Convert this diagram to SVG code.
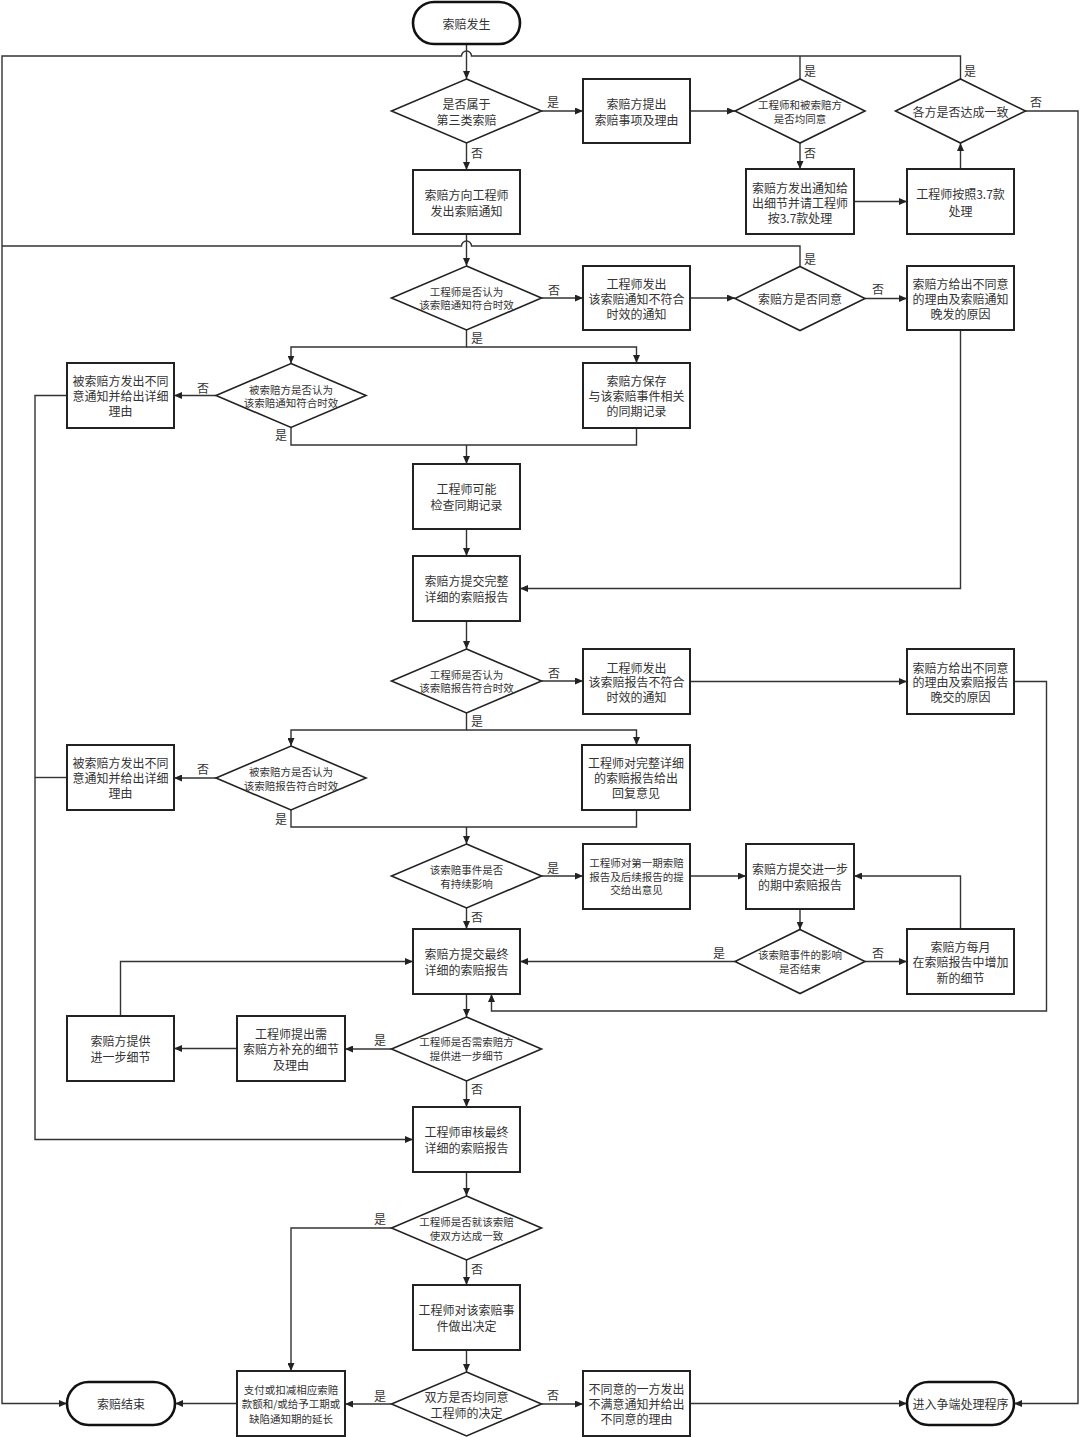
<svg xmlns="http://www.w3.org/2000/svg" width="1080" height="1437" viewBox="0 0 1080 1437">
<defs>
<marker id="a" markerWidth="8" markerHeight="7" refX="8" refY="3.5" orient="auto" markerUnits="userSpaceOnUse"><path d="M0,0 L8,3.5 L0,7 z" fill="#222"/></marker>
<style>
.box{fill:#fff;stroke:#222;stroke-width:2}
.dia{fill:#fff;stroke:#222;stroke-width:1.6}
.term{fill:#fff;stroke:#111;stroke-width:2.6}
.t{font-family:"Noto Sans CJK SC","Noto Sans",sans-serif;font-size:12px;fill:#333;text-anchor:middle;dominant-baseline:central}
.s{font-size:10.5px}
.lbl{font-family:"Noto Sans CJK SC","Noto Sans",sans-serif;font-size:12px;fill:#333;dominant-baseline:central}
.c{fill:none;stroke:#333;stroke-width:1.4}
.c path.ar{marker-end:url(#a)}
</style>
</defs>
<rect width="1080" height="1437" fill="#fff"/>
<g id="connectors" class="c">
<path class="ar" d="M466.5,44 V79"/>
<path class="ar" d="M541.5,111 H583"/>
<path class="ar" d="M690,111 H735"/>
<path class="ar" d="M800,143 V169"/>
<path class="ar" d="M854,201.5 H907"/>
<path class="ar" d="M960.5,169 V143"/>
<path class="ar" d="M960.5,79 V56 H471.5 A5,5 0 0 0 461.5,56 H2 V1403.5 H67"/>
<path d="M800,79 V56"/>
<path class="ar" d="M1025,111 H1078 V1403.5 H1014"/>
<path class="ar" d="M466.5,143 V170"/>
<path class="ar" d="M466.5,234 V266"/>
<path d="M800,266.5 V246 H471.5 A5,5 0 0 0 461.5,246 H2"/>
<path class="ar" d="M541.5,298 H583"/>
<path class="ar" d="M690,298 H735"/>
<path class="ar" d="M865,298.5 H907"/>
<path class="ar" d="M960.5,330 V588.5 H520"/>
<path class="ar" d="M466.5,330 V347 H291 V363.5"/>
<path class="ar" d="M466.5,347 H636.5 V363"/>
<path class="ar" d="M216,395.5 H174"/>
<path class="ar" d="M67,395.5 H35 V1139.5 H413"/>
<path d="M291,427.5 V445 H636.5 V428"/>
<path class="ar" d="M466.5,445 V464"/>
<path class="ar" d="M466.5,529 V556"/>
<path class="ar" d="M466.5,621 V649"/>
<path class="ar" d="M541.5,681 H583"/>
<path class="ar" d="M690,681.5 H907"/>
<path class="ar" d="M1014,681.5 H1046.5 V1011 H491.5 V994"/>
<path class="ar" d="M466.5,713 V730 H291 V746"/>
<path class="ar" d="M466.5,730 H636.5 V745"/>
<path class="ar" d="M216,778 H174"/>
<path d="M67,777.5 H35"/>
<path d="M291,810 V827 H636.5 V810"/>
<path class="ar" d="M466.5,827 V844"/>
<path class="ar" d="M541.5,876 H583"/>
<path class="ar" d="M690,876 H746"/>
<path class="ar" d="M800,909 V929.5"/>
<path class="ar" d="M865,961.5 H907"/>
<path class="ar" d="M735,961.5 H520"/>
<path class="ar" d="M960.5,929 V876 H854"/>
<path class="ar" d="M466.5,908 V929"/>
<path class="ar" d="M466.5,994 V1017"/>
<path class="ar" d="M391.5,1049 H345"/>
<path class="ar" d="M237,1048.5 H174"/>
<path class="ar" d="M120.5,1016 V961.5 H413"/>
<path class="ar" d="M466.5,1081 V1107"/>
<path class="ar" d="M466.5,1172 V1196"/>
<path class="ar" d="M391.5,1228 H291 V1371"/>
<path class="ar" d="M466.5,1260 V1285"/>
<path class="ar" d="M466.5,1350 V1372"/>
<path class="ar" d="M391.5,1404 H345"/>
<path class="ar" d="M237,1403.5 H175"/>
<path class="ar" d="M541.5,1404 H583"/>
<path class="ar" d="M690,1403.5 H907"/>
</g>
<g id="labels" class="lbl">
<text x="471" y="152">否</text>
<text x="547" y="101">是</text>
<text x="804" y="70">是</text>
<text x="804" y="152">否</text>
<text x="964" y="70">是</text>
<text x="1030" y="101">否</text>
<text x="548" y="289">否</text>
<text x="804" y="258">是</text>
<text x="872" y="288">否</text>
<text x="471" y="337">是</text>
<text x="197" y="387">否</text>
<text x="275" y="434">是</text>
<text x="548" y="672">否</text>
<text x="471" y="720">是</text>
<text x="197" y="768">否</text>
<text x="275" y="818">是</text>
<text x="547" y="867">是</text>
<text x="471" y="916">否</text>
<text x="713" y="952">是</text>
<text x="872" y="952">否</text>
<text x="374" y="1039">是</text>
<text x="471" y="1088">否</text>
<text x="374" y="1218">是</text>
<text x="471" y="1268">否</text>
<text x="374" y="1395">是</text>
<text x="547" y="1394">否</text>
</g>
<g id="n1"><rect class="term" x="413" y="2" width="107" height="42" rx="21"/><text class="t" x="466.5" y="23">索赔发生</text></g>
<g id="n2"><polygon class="dia" points="466.5,79 541.5,111 466.5,143 391.5,111"/><text class="t" x="466.5" y="103">是否属于</text><text class="t" x="466.5" y="119">第三类索赔</text></g>
<g id="n3"><rect class="box" x="583" y="79" width="107" height="64"/><text class="t" x="636.5" y="103">索赔方提出</text><text class="t" x="636.5" y="119">索赔事项及理由</text></g>
<g id="n4"><polygon class="dia" points="800,79 865,111 800,143 735,111"/><text class="t s" x="800" y="104">工程师和被索赔方</text><text class="t s" x="800" y="118">是否均同意</text></g>
<g id="n5"><polygon class="dia" points="960.5,79 1025.5,111 960.5,143 895.5,111"/><text class="t" x="960.5" y="111">各方是否达成一致</text></g>
<g id="n6"><rect class="box" x="413" y="170" width="107" height="64"/><text class="t" x="466.5" y="194">索赔方向工程师</text><text class="t" x="466.5" y="210">发出索赔通知</text></g>
<g id="n7"><rect class="box" x="746" y="169" width="108" height="65"/><text class="t" x="800" y="187">索赔方发出通知给</text><text class="t" x="800" y="202">出细节并请工程师</text><text class="t" x="800" y="217">按3.7款处理</text></g>
<g id="n8"><rect class="box" x="907" y="169" width="107" height="65"/><text class="t" x="960.5" y="193">工程师按照3.7款</text><text class="t" x="960.5" y="210">处理</text></g>
<g id="n9"><polygon class="dia" points="466.5,266 541.5,298 466.5,330 391.5,298"/><text class="t s" x="466.5" y="291.5">工程师是否认为</text><text class="t s" x="466.5" y="304.5">该索赔通知符合时效</text></g>
<g id="n10"><rect class="box" x="583" y="266" width="107" height="64"/><text class="t" x="636.5" y="283">工程师发出</text><text class="t" x="636.5" y="298">该索赔通知不符合</text><text class="t" x="636.5" y="313">时效的通知</text></g>
<g id="n11"><polygon class="dia" points="800,266.5 865,298.5 800,330.5 735,298.5"/><text class="t" x="800" y="298.5">索赔方是否同意</text></g>
<g id="n12"><rect class="box" x="907" y="266" width="107" height="64"/><text class="t" x="960.5" y="283">索赔方给出不同意</text><text class="t" x="960.5" y="298">的理由及索赔通知</text><text class="t" x="960.5" y="313">晚发的原因</text></g>
<g id="n13"><rect class="box" x="67" y="363" width="107" height="65"/><text class="t" x="120.5" y="380">被索赔方发出不同</text><text class="t" x="120.5" y="395">意通知并给出详细</text><text class="t" x="120.5" y="410">理由</text></g>
<g id="n14"><polygon class="dia" points="291,363.5 366,395.5 291,427.5 216,395.5"/><text class="t s" x="291" y="389">被索赔方是否认为</text><text class="t s" x="291" y="402">该索赔通知符合时效</text></g>
<g id="n15"><rect class="box" x="583" y="363" width="107" height="65"/><text class="t" x="636.5" y="380">索赔方保存</text><text class="t" x="636.5" y="395">与该索赔事件相关</text><text class="t" x="636.5" y="410">的同期记录</text></g>
<g id="n16"><rect class="box" x="413" y="464" width="107" height="65"/><text class="t" x="466.5" y="488">工程师可能</text><text class="t" x="466.5" y="504">检查同期记录</text></g>
<g id="n17"><rect class="box" x="413" y="556" width="107" height="65"/><text class="t" x="466.5" y="580.5">索赔方提交完整</text><text class="t" x="466.5" y="596.5">详细的索赔报告</text></g>
<g id="n18"><polygon class="dia" points="466.5,649 541.5,681 466.5,713 391.5,681"/><text class="t s" x="466.5" y="674.5">工程师是否认为</text><text class="t s" x="466.5" y="687.5">该索赔报告符合时效</text></g>
<g id="n19"><rect class="box" x="583" y="649" width="107" height="65"/><text class="t" x="636.5" y="667">工程师发出</text><text class="t" x="636.5" y="681.5">该索赔报告不符合</text><text class="t" x="636.5" y="696">时效的通知</text></g>
<g id="n20"><rect class="box" x="907" y="649" width="107" height="65"/><text class="t" x="960.5" y="667">索赔方给出不同意</text><text class="t" x="960.5" y="681.5">的理由及索赔报告</text><text class="t" x="960.5" y="696">晚交的原因</text></g>
<g id="n21"><rect class="box" x="67" y="745" width="107" height="65"/><text class="t" x="120.5" y="762">被索赔方发出不同</text><text class="t" x="120.5" y="777">意通知并给出详细</text><text class="t" x="120.5" y="792">理由</text></g>
<g id="n22"><polygon class="dia" points="291,746 366,778 291,810 216,778"/><text class="t s" x="291" y="771">被索赔方是否认为</text><text class="t s" x="291" y="785">该索赔报告符合时效</text></g>
<g id="n23"><rect class="box" x="582" y="745" width="108" height="65"/><text class="t" x="636" y="762">工程师对完整详细</text><text class="t" x="636" y="777">的索赔报告给出</text><text class="t" x="636" y="792">回复意见</text></g>
<g id="n24"><polygon class="dia" points="466.5,844 541.5,876 466.5,908 391.5,876"/><text class="t s" x="466.5" y="869.5">该索赔事件是否</text><text class="t s" x="466.5" y="883">有持续影响</text></g>
<g id="n25"><rect class="box" x="583" y="844" width="107" height="65"/><text class="t s" x="636.5" y="862.5">工程师对第一期索赔</text><text class="t s" x="636.5" y="876">报告及后续报告的提</text><text class="t s" x="636.5" y="889.5">交给出意见</text></g>
<g id="n26"><rect class="box" x="746" y="844" width="108" height="65"/><text class="t" x="800" y="868.5">索赔方提交进一步</text><text class="t" x="800" y="884">的期中索赔报告</text></g>
<g id="n27"><polygon class="dia" points="800,929.5 865,961.5 800,993.5 735,961.5"/><text class="t s" x="800" y="954.5">该索赔事件的影响</text><text class="t s" x="800" y="968">是否结束</text></g>
<g id="n28"><rect class="box" x="907" y="929" width="107" height="65"/><text class="t" x="960.5" y="946">索赔方每月</text><text class="t" x="960.5" y="961.5">在索赔报告中增加</text><text class="t" x="960.5" y="977">新的细节</text></g>
<g id="n29"><rect class="box" x="413" y="929" width="107" height="65"/><text class="t" x="466.5" y="953.5">索赔方提交最终</text><text class="t" x="466.5" y="969.5">详细的索赔报告</text></g>
<g id="n30"><polygon class="dia" points="466.5,1017 541.5,1049 466.5,1081 391.5,1049"/><text class="t s" x="466.5" y="1041.5">工程师是否需索赔方</text><text class="t s" x="466.5" y="1055.5">提供进一步细节</text></g>
<g id="n31"><rect class="box" x="237" y="1016" width="108" height="65"/><text class="t" x="291" y="1033">工程师提出需</text><text class="t" x="291" y="1048.5">索赔方补充的细节</text><text class="t" x="291" y="1064">及理由</text></g>
<g id="n32"><rect class="box" x="67" y="1016" width="107" height="65"/><text class="t" x="120.5" y="1040.5">索赔方提供</text><text class="t" x="120.5" y="1056.5">进一步细节</text></g>
<g id="n33"><rect class="box" x="413" y="1107" width="107" height="65"/><text class="t" x="466.5" y="1131.5">工程师审核最终</text><text class="t" x="466.5" y="1147.5">详细的索赔报告</text></g>
<g id="n34"><polygon class="dia" points="466.5,1196 541.5,1228 466.5,1260 391.5,1228"/><text class="t s" x="466.5" y="1221">工程师是否就该索赔</text><text class="t s" x="466.5" y="1235">使双方达成一致</text></g>
<g id="n35"><rect class="box" x="413" y="1285" width="107" height="65"/><text class="t" x="466.5" y="1309.5">工程师对该索赔事</text><text class="t" x="466.5" y="1325">件做出决定</text></g>
<g id="n36"><polygon class="dia" points="466.5,1372 541.5,1404 466.5,1436 391.5,1404"/><text class="t" x="466.5" y="1396">双方是否均同意</text><text class="t" x="466.5" y="1412">工程师的决定</text></g>
<g id="n37"><rect class="box" x="237" y="1371" width="108" height="65"/><text class="t s" x="291" y="1389">支付或扣减相应索赔</text><text class="t s" x="291" y="1403.5">款额和/或给予工期或</text><text class="t s" x="291" y="1418">缺陷通知期的延长</text></g>
<g id="n38"><rect class="term" x="67" y="1382" width="108" height="43" rx="21.5"/><text class="t" x="121" y="1403.5">索赔结束</text></g>
<g id="n39"><rect class="box" x="583" y="1371" width="107" height="65"/><text class="t" x="636.5" y="1388.5">不同意的一方发出</text><text class="t" x="636.5" y="1403.5">不满意通知并给出</text><text class="t" x="636.5" y="1418.5">不同意的理由</text></g>
<g id="n40"><rect class="term" x="907" y="1382" width="107" height="43" rx="21.5"/><text class="t" x="960.5" y="1403.5">进入争端处理程序</text></g>
</svg>
